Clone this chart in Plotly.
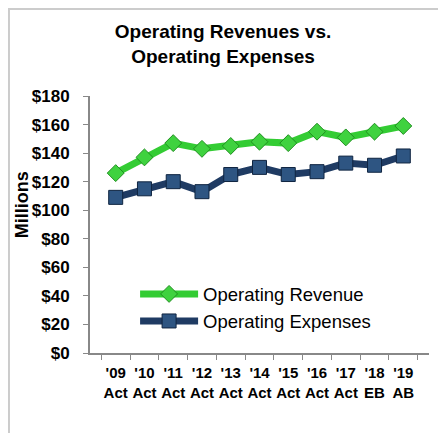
import plotly.graph_objects as go

# Chart data
years = ["'09", "'10", "'11", "'12", "'13", "'14", "'15", "'16", "'17", "'18", "'19"]
kinds = ["Act", "Act", "Act", "Act", "Act", "Act", "Act", "Act", "Act", "EB", "AB"]
revenue = [126, 137, 147, 143, 145, 148, 147, 155, 151, 155, 159]
expenses = [109, 115, 120, 113, 125, 130, 125, 127, 133, 131.5, 138]
y_ticks = [0, 20, 40, 60, 80, 100, 120, 140, 160, 180]

green = "#33cc33"
navy = "#1f3b63"
font = "Liberation Sans, Arial, sans-serif"

fig = go.Figure()
fig.add_trace(go.Scatter(
    x=years, y=revenue, mode="lines+markers", name="Operating Revenue",
    line=dict(color=green, width=7),
    marker=dict(symbol="diamond", size=13, color="#3fd23f",
                line=dict(color="#1f8f1f", width=1)),
))
fig.add_trace(go.Scatter(
    x=years, y=expenses, mode="lines+markers", name="Operating Expenses",
    line=dict(color=navy, width=7),
    marker=dict(symbol="square", size=14, color="#2e5582",
                line=dict(color="#0f2440", width=1)),
))

# page body adds an 8px margin, so the figure is a bit smaller than the window
fig.update_layout(
    width=438, height=425,
    margin=dict(l=82, r=17, t=88, b=80, autoexpand=False),
    paper_bgcolor="white", plot_bgcolor="white",
    font=dict(family=font, color="black"),
    title=dict(text="<b>Operating Revenues vs.<br>Operating Expenses</b>",
               x=0.491, xanchor="center", y=0.929, yanchor="top",
               font=dict(size=19, family=font, color="black")),
    showlegend=True,
    legend=dict(x=0.133, y=0.302, xanchor="left", yanchor="top",
                bgcolor="rgba(0,0,0,0)", font=dict(size=18.5, family=font),
                itemwidth=58, tracegroupgap=0),
    shapes=[dict(type="rect", xref="paper", yref="paper",
                 x0=-0.239, x1=1.1, y0=-0.4, y1=1.3385,
                 line=dict(color="#cccccc", width=2), layer="below")],
    # axis title placed by hand so it sits as close to the ticks as in the reference
    annotations=[dict(text="<b>Millions</b>", textangle=-90, showarrow=False,
                      xref="paper", yref="paper", x=-0.2, y=0.576,
                      xanchor="center", yanchor="middle",
                      font=dict(size=18, family=font, color="black"))],
)

fig.update_xaxes(
    type="category",
    tickmode="array", tickvals=years,
    ticktext=[f"<b>{y}<br>{k}</b>" for y, k in zip(years, kinds)],
    tickangle=0, automargin=False,
    tickson="boundaries", ticks="outside", ticklen=5, tickcolor="#888888",
    ticklabelstandoff=5,
    showline=True, linecolor="#888888", linewidth=2,
    showgrid=False, zeroline=False,
    tickfont=dict(size=15, family=font, color="black"),
)
fig.update_yaxes(
    range=[0, 180], automargin=False,
    tickmode="array", tickvals=y_ticks,
    ticktext=[f"<b>${v}</b>" for v in y_ticks],
    ticks="outside", ticklen=5, tickcolor="#888888",
    ticklabelstandoff=10,
    showline=True, linecolor="#888888", linewidth=2,
    showgrid=False, zeroline=False,
    tickfont=dict(size=17, family=font, color="black"),
)

fig.write_html("out.html")
